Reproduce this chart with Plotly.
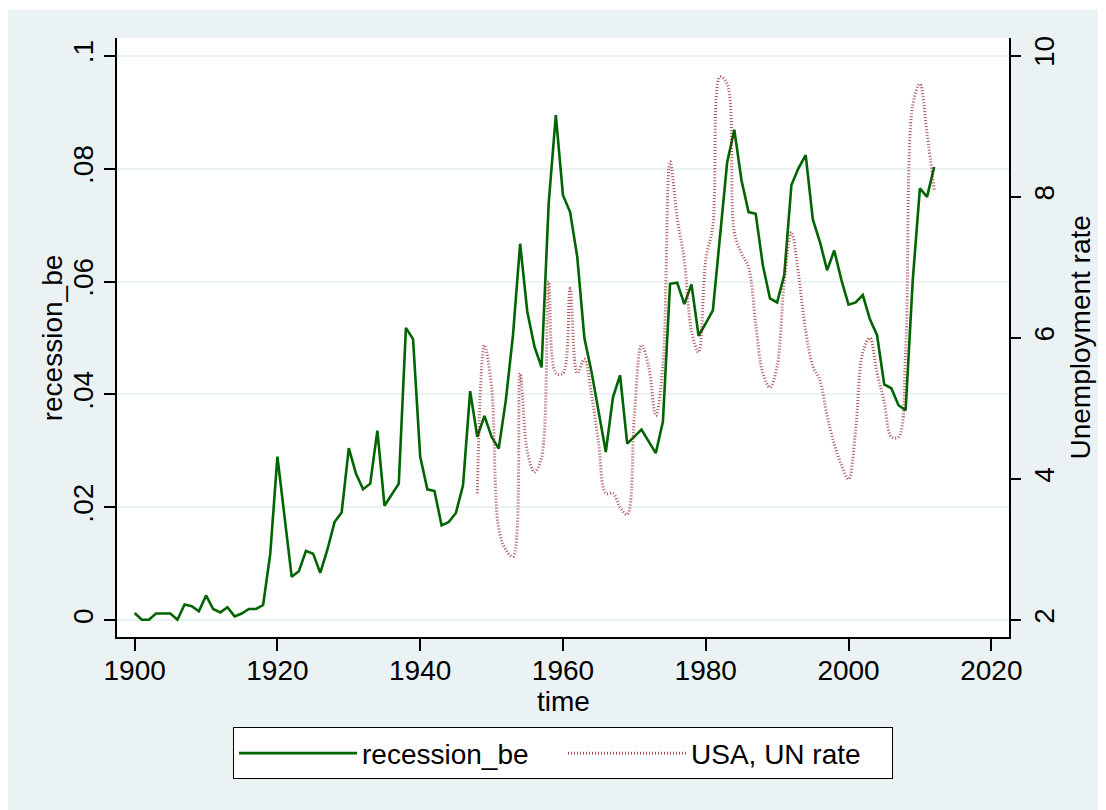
import plotly.graph_objects as go

years_be = list(range(1900, 2013))
recession_be = [
    0.0013, 0.0001, 0.0001, 0.0012, 0.0012, 0.0012, 0.0001, 0.0028, 0.0025, 0.0016,
    0.0044, 0.0020, 0.0014, 0.0023, 0.0007, 0.0012, 0.0020, 0.0020, 0.0027, 0.0118,
    0.0290, 0.0183, 0.0077, 0.0087, 0.0123, 0.0118, 0.0084, 0.0125, 0.0174, 0.0191,
    0.0305, 0.0260, 0.0232, 0.0242, 0.0336, 0.0203, 0.0222, 0.0242, 0.0518, 0.0498,
    0.0290, 0.0232, 0.0229, 0.0168, 0.0174, 0.0190, 0.0239, 0.0406, 0.0325, 0.0362,
    0.0325, 0.0304, 0.0390, 0.0505, 0.0667, 0.0547, 0.0485, 0.0448, 0.0739, 0.0895,
    0.0753, 0.0723, 0.0644, 0.0500, 0.0440, 0.0366, 0.0298, 0.0395, 0.0434, 0.0313,
    0.0325, 0.0338, 0.0317, 0.0296, 0.0352, 0.0596, 0.0598, 0.0560, 0.0595, 0.0504,
    0.0526, 0.0549, 0.0680, 0.0811, 0.0869, 0.0780, 0.0723, 0.0720, 0.0629, 0.0570,
    0.0563, 0.0612, 0.0771, 0.0801, 0.0824, 0.0710, 0.0670, 0.0620, 0.0655, 0.0603,
    0.0559, 0.0563, 0.0576, 0.0533, 0.0505, 0.0418, 0.0411, 0.0381, 0.0372, 0.0603,
    0.0765, 0.0750, 0.0803,
]

years_un = list(range(1948, 2013))
usa_un_rate = [
    3.8, 5.9, 5.3, 3.3, 3.0, 2.9, 5.5, 4.4, 4.1, 4.3,
    6.8, 5.5, 5.5, 6.7, 5.5, 5.7, 5.2, 4.5, 3.8, 3.8,
    3.6, 3.5, 4.9, 5.9, 5.6, 4.9, 5.6, 8.5, 7.7, 7.1,
    6.1, 5.8, 7.1, 7.6, 9.7, 9.6, 7.5, 7.2, 7.0, 6.2,
    5.5, 5.3, 5.6, 6.8, 7.5, 6.9, 6.1, 5.6, 5.4, 4.9,
    4.5, 4.2, 4.0, 4.7, 5.8, 6.0, 5.5, 5.1, 4.6, 4.6,
    5.8, 9.3, 9.6, 8.9, 8.1,
]

x_ticks = [1900, 1920, 1940, 1960, 1980, 2000, 2020]
left_ticks = [0, 0.02, 0.04, 0.06, 0.08, 0.1]
left_tick_text = ["0", ".02", ".04", ".06", ".08", ".1"]
right_ticks = [2, 4, 6, 8, 10]

BG = "#EAF2F3"
FONT = "Liberation Sans, Arial, sans-serif"
FS = 28
X_RANGE = [1897.53, 2022.48]

fig = go.Figure()
fig.add_trace(go.Scatter(
    x=years_be, y=recession_be, name="recession_be", mode="lines",
    line=dict(color="#006400", width=2.6), yaxis="y",
))
fig.add_trace(go.Scatter(
    x=years_un, y=usa_un_rate, name="USA, UN rate", mode="lines",
    line=dict(color="rgba(140,20,30,0.72)", width=3, dash="1px,2px", shape="spline", smoothing=1.0),
    yaxis="y2",
))

fig.update_layout(
    width=1098, height=802,
    margin=dict(l=109, r=97, t=30, b=173, pad=0),
    paper_bgcolor=BG, plot_bgcolor="white",
    font=dict(family=FONT, size=FS, color="black"),
    showlegend=True,
    legend=dict(
        orientation="h", x=0.5, xanchor="center", y=-0.151, yanchor="top",
        bgcolor="white", bordercolor="black", borderwidth=1,
        font=dict(family=FONT, size=FS, color="black"),
        entrywidth=196, itemwidth=118,
    ),
    xaxis=dict(
        range=X_RANGE, tickvals=x_ticks, ticks="outside", ticklen=12,
        tickwidth=1.5, tickcolor="black", showline=True, linecolor="black", linewidth=1.5,
        showgrid=False, zeroline=False, tickfont=dict(size=FS), ticklabelstandoff=-4,
    ),
    yaxis=dict(
        range=[-0.00296, 0.10314], tickvals=left_ticks, ticktext=left_tick_text,
        ticks="outside", ticklen=11, tickwidth=1.5, tickcolor="black", tickangle=-90,
        showline=True, linecolor="black", linewidth=1.5,
        showgrid=True, gridcolor=BG, gridwidth=2, zeroline=False,
        tickfont=dict(size=FS),
    ),
    yaxis2=dict(
        range=[1.763, 10.251], tickvals=right_ticks, overlaying="y", side="right",
        ticks="outside", ticklen=10, tickwidth=1.5, tickcolor="black", tickangle=-90,
        showline=True, linecolor="black", linewidth=1.5, showgrid=False, zeroline=False,
        tickfont=dict(size=FS), ticklabelstandoff=0,
    ),
    annotations=[
        dict(text="time", xref="paper", yref="paper", x=0.5, y=-0.108,
             xanchor="center", yanchor="middle", showarrow=False, font=dict(size=FS)),
        dict(text="recession_be", xref="paper", yref="paper", x=-0.072, y=0.5,
             xanchor="center", yanchor="middle", textangle=-90, showarrow=False,
             font=dict(size=FS)),
        dict(text="Unemployment rate", xref="paper", yref="paper", x=1.0796, y=0.5,
             xanchor="center", yanchor="middle", textangle=-90, showarrow=False,
             font=dict(size=FS)),
    ],
    shapes=[
        dict(type="rect", xref="paper", yref="paper", x0=-0.2, x1=1.2, y0=1.0473, y1=1.2,
             fillcolor="white", line=dict(width=0), layer="above"),
    ],
)

fig.write_html("out.html")
